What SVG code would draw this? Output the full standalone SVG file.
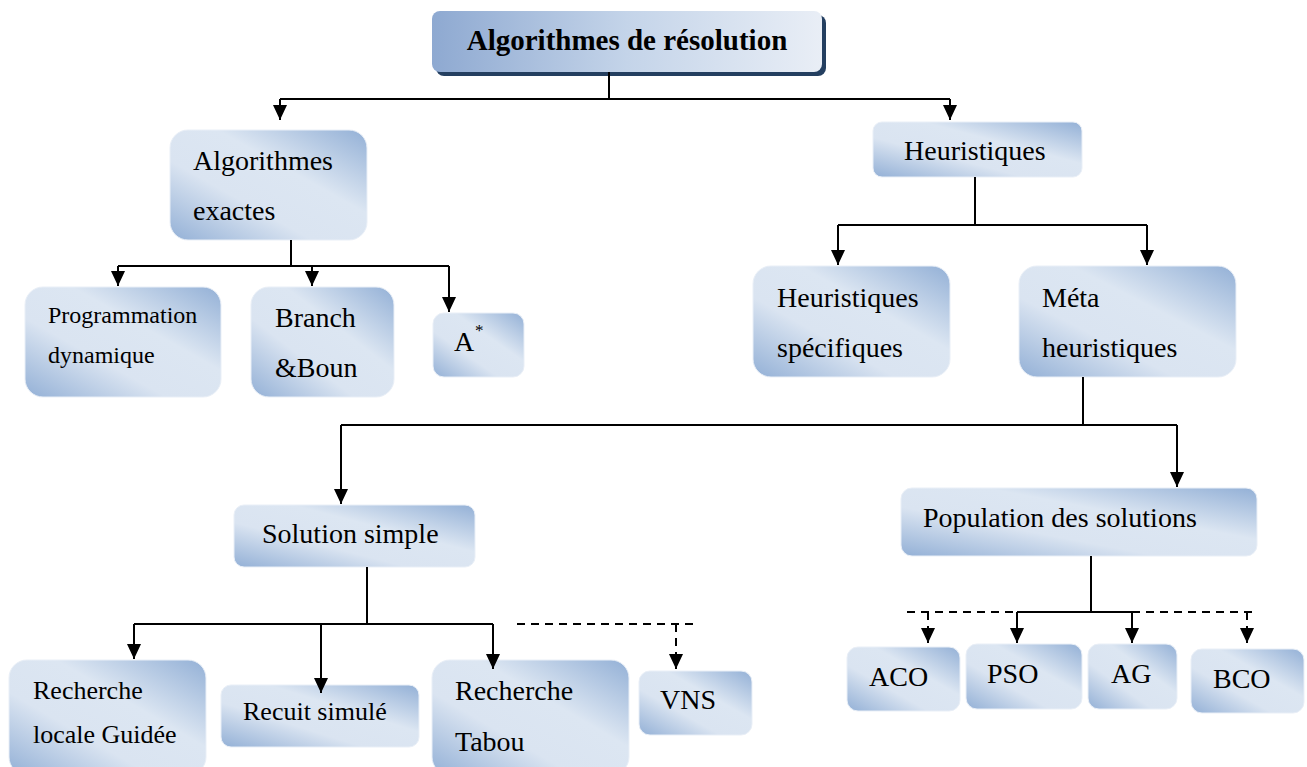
<svg xmlns="http://www.w3.org/2000/svg" width="1307" height="767" viewBox="0 0 1307 767">
<style>
text{font-family:"Liberation Serif","Tinos","DejaVu Serif","Noto Serif",serif;fill:#000;}
.t{font-size:28px;}
.s{font-size:24px;}
.b{font-size:29px;font-weight:bold;}
.box{fill:url(#g);stroke:#e9eff7;stroke-width:1;}
.ln{fill:none;stroke:#000;stroke-width:2;}
.ar{marker-end:url(#ah);}
.d{stroke-dasharray:8 6;}
</style>
<defs>
<linearGradient id="g" x1="0" y1="1" x2="1" y2="0">
<stop offset="0" stop-color="#93B0D6"/>
<stop offset="0.36" stop-color="#DAE4F1"/>
<stop offset="0.62" stop-color="#DCE6F2"/>
<stop offset="1" stop-color="#93B0D6"/>
</linearGradient>
<linearGradient id="gt" x1="0" y1="0" x2="1" y2="0">
<stop offset="0" stop-color="#8EA9D1"/>
<stop offset="0.5" stop-color="#C4D4E9"/>
<stop offset="1" stop-color="#E9EEF6"/>
</linearGradient>
<marker id="ah" markerUnits="userSpaceOnUse" markerWidth="15" markerHeight="14" viewBox="0 0 15 14" refX="15" refY="7" orient="auto">
<path d="M0,0 L15,7 L0,14 z" fill="#000"/>
</marker>
</defs>

<g id="root">
<rect x="436" y="15" width="390" height="61" rx="8" fill="#243F60"/>
<rect x="432" y="11" width="390" height="61" rx="8" fill="url(#gt)"/>
<text class="b" font-family="Liberation Serif, serif" x="627" y="50" text-anchor="middle">Algorithmes de résolution</text>
</g>

<g id="exactes">
<rect class="box" x="170" y="130" width="197" height="110" rx="18"/>
<text class="t" x="193" y="170">Algorithmes</text>
<text class="t" x="193" y="220">exactes</text>
</g>

<g id="progdyn">
<rect class="box" x="25" y="287" width="196" height="110" rx="18"/>
<text class="s" x="48" y="323">Programmation</text>
<text class="s" x="48" y="363">dynamique</text>
</g>

<g id="branch">
<rect class="box" x="251" y="287" width="143" height="110" rx="18"/>
<text class="t" x="275" y="327">Branch</text>
<text class="t" x="275" y="377">&amp;Boun</text>
</g>

<g id="astar">
<rect class="box" x="433" y="313" width="91" height="64" rx="11"/>
<text class="t" x="454" y="351">A</text>
<text x="475" y="336" style="font-size:17px">*</text>
</g>

<g id="heuristiques">
<rect class="box" x="873" y="122" width="209" height="55" rx="9"/>
<text class="t" x="904" y="160">Heuristiques</text>
</g>

<g id="specifiques">
<rect class="box" x="753" y="266" width="197" height="111" rx="18"/>
<text class="t" x="777" y="307">Heuristiques</text>
<text class="t" x="777" y="357">spécifiques</text>
</g>

<g id="meta">
<rect class="box" x="1019" y="266" width="217" height="111" rx="18"/>
<text class="t" x="1042" y="307">Méta</text>
<text class="t" x="1042" y="357">heuristiques</text>
</g>

<g id="simple">
<rect class="box" x="234" y="505" width="241" height="62" rx="10"/>
<text class="t" x="262" y="543">Solution simple</text>
</g>

<g id="population">
<rect class="box" x="901" y="488" width="356" height="68" rx="11"/>
<text class="t" x="923" y="527">Population des solutions</text>
</g>

<g id="rlg">
<rect class="box" x="9" y="660" width="197" height="115" rx="18"/>
<text class="t" x="33" y="699" style="font-size:26px">Recherche</text>
<text class="t" x="33" y="743" style="font-size:26px">locale Guidée</text>
</g>

<g id="recuit">
<rect class="box" x="221" y="685" width="198" height="62" rx="10"/>
<text class="t" x="243" y="720" style="font-size:26px">Recuit simulé</text>
</g>

<g id="tabou">
<rect class="box" x="432" y="660" width="197" height="115" rx="18"/>
<text class="t" x="455" y="700">Recherche</text>
<text class="t" x="455" y="751">Tabou</text>
</g>

<g id="vns">
<rect class="box" x="639" y="671" width="113" height="64" rx="11"/>
<text class="t" x="660" y="709">VNS</text>
</g>

<g id="aco">
<rect class="box" x="847" y="647" width="113" height="64" rx="11"/>
<text class="t" x="869" y="686">ACO</text>
</g>

<g id="pso">
<rect class="box" x="966" y="644" width="116" height="65" rx="11"/>
<text class="t" x="987" y="683">PSO</text>
</g>

<g id="ag">
<rect class="box" x="1088" y="644" width="89" height="65" rx="11"/>
<text class="t" x="1111" y="683">AG</text>
</g>

<g id="bco">
<rect class="box" x="1191" y="649" width="113" height="64" rx="11"/>
<text class="t" x="1213" y="688">BCO</text>
</g>

<g id="connectors">
<path class="ln" d="M609,72 V99 M280,99 H950"/>
<path class="ln ar" d="M280,99 V120"/>
<path class="ln ar" d="M950,99 V120"/>

<path class="ln" d="M291,240 V266 M118,266 H449"/>
<path class="ln ar" d="M118,266 V286"/>
<path class="ln ar" d="M312,266 V286"/>
<path class="ln ar" d="M449,266 V312"/>

<path class="ln" d="M975,177 V225 M838,225 H1147"/>
<path class="ln ar" d="M838,225 V265"/>
<path class="ln ar" d="M1147,225 V265"/>

<path class="ln" d="M1083,377 V425 M341,425 H1177"/>
<path class="ln ar" d="M341,425 V504"/>
<path class="ln ar" d="M1177,425 V487"/>

<path class="ln" d="M367,567 V624 M134,624 H493"/>
<path class="ln ar" d="M134,624 V659"/>
<path class="ln ar" d="M321,624 V693"/>
<path class="ln ar" d="M493,624 V669"/>
<path class="ln d" d="M517,624 H693"/>
<path class="ln d ar" d="M676,624 V669"/>

<path class="ln" d="M1091,556 V612 M1017,612 H1132"/>
<path class="ln d" d="M907,612 H1017 M1132,612 H1258"/>
<path class="ln ar" d="M1017,612 V643"/>
<path class="ln ar" d="M1132,612 V643"/>
<path class="ln d ar" d="M928,612 V643"/>
<path class="ln d ar" d="M1247,612 V643"/>
</g>
</svg>
